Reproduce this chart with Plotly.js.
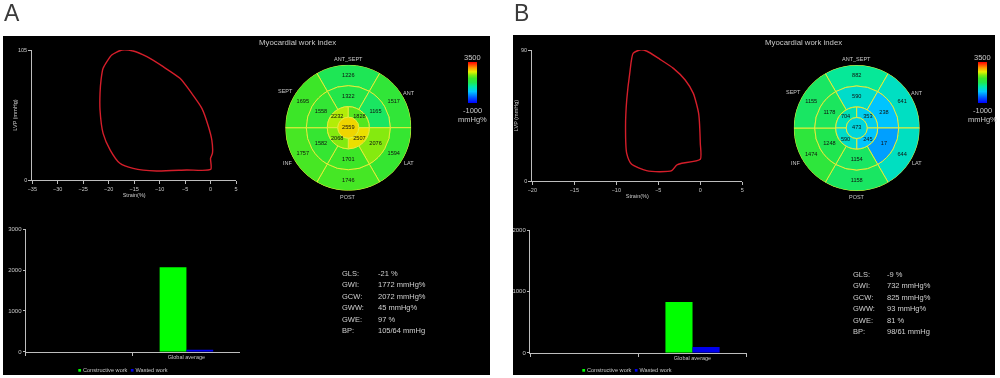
<!DOCTYPE html>
<html>
<head>
<meta charset="utf-8">
<script src="https://cdn.plot.ly/plotly-3.0.1.min.js"></script>
<style>
html,body{margin:0;padding:0;background:#fff;}
#chart{width:1000px;height:378px;}
#chart svg{-webkit-font-smoothing:antialiased;}
#chart .main-svg{will-change:transform;}
</style>
</head>
<body>
<div id="chart"></div>
<script>
// ---------- DATA ----------
// Pressure-strain loops
const loopA_strain = [0.05, 0.0, 0.37, 0.25, -0.4, -1.7, -3.7, -6.0, -9.3, -12.5, -15.2, -17.4, -19.4, -21.1, -21.5, -21.7, -21.7, -21.1, -19.7, -17.8, -15.2, -10.6, -4.7, 0.05];
const loopA_lvp    = [8.6, 17.5, 21.5, 32.3, 43.0, 57.9, 70.0, 82.1, 91.5, 99.6, 104.2, 105.0, 101.0, 90.2, 80.8, 70.0, 56.5, 37.7, 24.2, 13.5, 9.4, 7.3, 8.1, 8.6];
const loopB_strain = [0.0, 0.0, -0.2, -0.83, -1.8, -3.2, -4.8, -6.4, -7.2, -8.0, -8.4, -8.76, -8.9, -8.76, -8.2, -6.4, -4.8, -3.4, -2.8, -2.2, 0.0];
const loopB_lvp    = [14.9, 25.9, 46.5, 60.2, 69.4, 77.4, 83.6, 89.3, 90.0, 87.7, 74.0, 55.6, 37.3, 19.0, 11.7, 7.1, 6.4, 7.1, 11.0, 12.2, 14.9];

// Bull's-eye (myocardial work index, mmHg%)
const segNames6 = ['ANT_SEPT', 'ANT', 'LAT', 'POST', 'INF', 'SEPT'];
const basalA  = [1226, 1517, 1594, 1746, 1757, 1695];
const midA    = [1322, 1165, 2076, 1701, 1582, 1558];
const apicalA = [2232, 1828, 2507, 2068];
const apexA   = [2559];
const basalB  = [882, 641, 644, 1158, 1474, 1155];
const midB    = [590, 238, 17, 1154, 1248, 1178];
const apicalB = [704, 353, 245, 590];
const apexB   = [473];
const scaleMin = -1000, scaleMax = 3500;

// Global work bars
const barCategories = [' ', 'Global average'];
const constructiveA = [2072];
const wastedA       = [45];
const constructiveB = [825];
const wastedB       = [93];

// Global indices
const statLabels = ['GLS:', 'GWI:', 'GCW:', 'GWW:', 'GWE:', 'BP:'];
const statsA = ['-21 %', '1772 mmHg%', '2072 mmHg%', '45 mmHg%', '97 %', '105/64 mmHg'];
const statsB = ['-9 %', '732 mmHg%', '825 mmHg%', '93 mmHg%', '81 %', '98/61 mmHg'];

// ---------- HELPERS ----------
const W = 1000, H = 378;
const px = x => x / W;
const py = y => 1 - y / H;
const FONT = 'Liberation Sans, Arial, sans-serif';
const TXT = '#c8c8c8';
const AX = '#bdbdbd';
const CS = [[0,'#0000ff'],[0.12,'#0050ff'],[0.28,'#00c8ff'],[0.4,'#00e8a8'],[0.5,'#20e650'],[0.6,'#3ce628'],[0.68,'#80ea10'],[0.76,'#e8f000'],[0.86,'#ff9800'],[1,'#ff0000']];
const ang6 = [90, 30, -30, -90, -150, 150];
const ang4 = [135, 45, -45, -135];
const labelR = [69, 70, 70, 69, 70, 73];

const axBase = {showgrid:false, zeroline:false, showline:true, linecolor:AX, linewidth:1,
  ticks:'outside', ticklen:3, tickcolor:AX, tickfont:{size:5.5, color:TXT, family:FONT}, fixedrange:true};

function bullseye(subplot, basal, mid, apical, apex, cbx) {
  const mk = (vals, show) => ({color: vals, colorscale: CS, cmin: scaleMin, cmax: scaleMax,
    line: {color:'#e4ee3a', width:1}, showscale: show,
    colorbar: show ? {x: px(cbx), xanchor:'left', y: py(82.5), yanchor:'middle', thickness:9, thicknessmode:'pixels',
      len:41, lenmode:'pixels', showticklabels:false, ticks:'', outlinewidth:0, xpad:0, ypad:0} : undefined});
  return [
    {type:'barpolar', subplot, r: basal.map(() => 2), base: 4, theta: ang6, width: 60, marker: mk(basal, true), hoverinfo:'skip'},
    {type:'barpolar', subplot, r: mid.map(() => 2), base: 2, theta: ang6, width: 60, marker: mk(mid, false), hoverinfo:'skip'},
    {type:'barpolar', subplot, r: apical.map(() => 1), base: 1, theta: ang4, width: 90, marker: mk(apical, false), hoverinfo:'skip'},
    {type:'barpolar', subplot, r: [1], base: 0, theta: [0], width: 360, marker: mk(apex, false), hoverinfo:'skip'},
    {type:'scatterpolar', subplot, mode:'text', cliponaxis:false, hoverinfo:'skip',
      r: [...basal.map(() => 5), ...mid.map(() => 3), ...apical.map(() => 1.5), 0],
      theta: [...ang6, ...ang6, ...ang4, 0],
      text: [...basal, ...mid, ...apical, ...apex].map(String),
      textfont: {size:5.6, color:'#101010', family:FONT}}
  ];
}

// ---------- TRACES ----------
const traces = [
  {type:'scatter', mode:'lines', x: loopA_strain, y: loopA_lvp, xaxis:'x', yaxis:'y',
   line:{color:'#d41e2a', width:1.4, shape:'spline', smoothing:0.6}, hoverinfo:'skip'},
  {type:'scatter', mode:'lines', x: loopB_strain, y: loopB_lvp, xaxis:'x2', yaxis:'y2',
   line:{color:'#d41e2a', width:1.4, shape:'spline', smoothing:0.6}, hoverinfo:'skip'},
  {type:'bar', x:[barCategories[1]], y: constructiveA, xaxis:'x3', yaxis:'y3', marker:{color:'#00ff00'}, name:'Constructive work', hoverinfo:'skip'},
  {type:'bar', x:[barCategories[1]], y: wastedA, xaxis:'x3', yaxis:'y3', marker:{color:'#0000ee'}, name:'Wasted work', hoverinfo:'skip'},
  {type:'bar', x:[barCategories[1]], y: constructiveB, xaxis:'x4', yaxis:'y4', marker:{color:'#00ff00'}, name:'Constructive work', hoverinfo:'skip'},
  {type:'bar', x:[barCategories[1]], y: wastedB, xaxis:'x4', yaxis:'y4', marker:{color:'#0000ee'}, name:'Wasted work', hoverinfo:'skip'},
  ...bullseye('polar', basalA, midA, apicalA, apexA, 468),
  ...bullseye('polar2', basalB, midB, apicalB, apexB, 977.7)
];

// ---------- ANNOTATIONS ----------
const ann = [];
const addText = (x, y, text, size, color, xanchor) => ann.push({xref:'paper', yref:'paper', x: px(x), y: py(y), text,
  showarrow:false, xanchor: xanchor || 'center', yanchor:'middle', font:{size, color: color || TXT, family:FONT}});

addText(2, 13.5, 'A', 23, '#3a3a3a', 'left');
addText(512, 13.5, 'B', 23, '#3a3a3a', 'left');
addText(297, 43, 'Myocardial work index', 7.8);
addText(803, 43, 'Myocardial work index', 7.8);

// colorbar labels
[472.5, 982].forEach(cx => {
  addText(cx, 57.5, String(scaleMax), 7.5);
  addText(cx, 110.5, String(scaleMin), 7.5);
  addText(cx, 119.8, 'mmHg%', 7.5);
});

// segment names around bull's-eye
[[348.3, 127.7], [856.7, 128]].forEach(([cx, cy]) => {
  segNames6.forEach((n, i) => {
    const a = ang6[i] * Math.PI / 180;
    addText(cx + labelR[i] * Math.cos(a), cy - labelR[i] * Math.sin(a), n, 5.5);
  });
});

// stats
statLabels.forEach((l, i) => {
  addText(340, 273.3 + i * 11.5, l, 7.5, '#cfcfcf', 'left');
  addText(376, 273.3 + i * 11.5, statsA[i], 7.5, '#cfcfcf', 'left');
  addText(850.7, 274 + i * 11.5, l, 7.5, '#cfcfcf', 'left');
  addText(885, 274 + i * 11.5, statsB[i], 7.5, '#cfcfcf', 'left');
});

// bar legends
const legTxt = '<span style="color:#00ff00">■</span> ' + traces[2].name + '  <span style="color:#0000ee">■</span> ' + traces[3].name;
addText(123, 369.5, legTxt, 5.6);
addText(627, 370.3, legTxt, 5.6);

// ---------- LAYOUT ----------
const layout = {
  width: W, height: H, margin:{l:0, r:0, t:0, b:0},
  paper_bgcolor:'#ffffff', plot_bgcolor:'rgba(0,0,0,0)', showlegend:false,
  font:{family:FONT, color:TXT},
  barmode:'group', bargap:0.5, bargroupgap:0,
  shapes:[
    {type:'rect', xref:'paper', yref:'paper', x0:px(3), x1:px(490), y0:py(375), y1:py(36), fillcolor:'#000', line:{width:0}, layer:'below'},
    {type:'rect', xref:'paper', yref:'paper', x0:px(513), x1:px(995), y0:py(375), y1:py(35), fillcolor:'#000', line:{width:0}, layer:'below'}
  ],
  xaxis: {...axBase, domain:[px(32.3), px(236)], range:[-35, 5], dtick:5, anchor:'y',
          title:{text:'Strain(%)', font:{size:5.5, color:TXT}, standoff:2}},
  yaxis: {...axBase, domain:[py(180), py(50)], range:[0, 105], tickvals:[0, 105], anchor:'x',
          title:{text:'LVP (mmHg)', font:{size:5.5, color:TXT}, standoff:0}},
  xaxis2: {...axBase, domain:[px(532.3), px(742.3)], range:[-20, 5], dtick:5, anchor:'y2',
          title:{text:'Strain(%)', font:{size:5.5, color:TXT}, standoff:2}},
  yaxis2: {...axBase, domain:[py(181), py(50)], range:[0, 90], tickvals:[0, 90], anchor:'x2',
          title:{text:'LVP (mmHg)', font:{size:5.5, color:TXT}, standoff:2}},
  xaxis3: {...axBase, domain:[px(25.7), px(240)], type:'category', categoryorder:'array', categoryarray:barCategories,
          range:[-0.5, 1.5], tickson:'boundaries', anchor:'y3', tickfont:{size:5.5, color:TXT}},
  yaxis3: {...axBase, domain:[py(351.7), py(229.3)], range:[0, 3000], tickvals:[0, 1000, 2000, 3000], anchor:'x3', ticklen:2,
          tickfont:{size:6, color:TXT}},
  xaxis4: {...axBase, domain:[px(530), px(746.7)], type:'category', categoryorder:'array', categoryarray:barCategories,
          range:[-0.5, 1.5], tickson:'boundaries', anchor:'y4', tickfont:{size:5.5, color:TXT}},
  yaxis4: {...axBase, domain:[py(352.7), py(230)], range:[0, 2000], tickvals:[0, 1000, 2000], anchor:'x4', ticklen:2,
          tickfont:{size:6, color:TXT}},
  polar: {domain:{x:[px(285.3), px(411.3)], y:[py(190.7), py(64.7)]}, bgcolor:'rgba(0,0,0,0)',
          radialaxis:{visible:false, range:[0, 6]}, angularaxis:{visible:false}},
  polar2: {domain:{x:[px(793.7), px(919.7)], y:[py(191), py(65)]}, bgcolor:'rgba(0,0,0,0)',
          radialaxis:{visible:false, range:[0, 6]}, angularaxis:{visible:false}},
  annotations: ann
};

Plotly.newPlot('chart', traces, layout, {displayModeBar:false, staticPlot:true});
</script>
</body>
</html>
